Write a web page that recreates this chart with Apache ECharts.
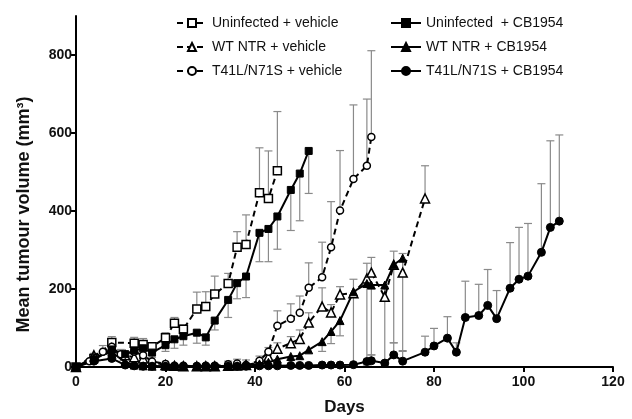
<!DOCTYPE html>
<html>
<head>
<meta charset="utf-8">
<script src="https://cdn.jsdelivr.net/npm/echarts@6/dist/echarts.min.js"></script>
<style>html,body{margin:0;padding:0;background:#fff}#c{width:632px;height:419px}</style>
</head>
<body>
<div id="c"></div>
<script>
// ---- Data ----
const seriesNames = ['Uninfected + vehicle', 'WT NTR + vehicle', 'T41L/N71S + vehicle',
                     'Uninfected  + CB1954', 'WT NTR + CB1954', 'T41L/N71S + CB1954'];
const xTicks = [0, 20, 40, 60, 80, 100, 120];
const yTicks = [0, 200, 400, 600, 800];

// Uninfected + vehicle (error bars upward)
const uvDays = [0, 4, 8, 13, 15, 17, 20, 22, 24, 27, 29, 31, 34, 36, 38, 41, 43, 45];
const uvVals = [0, 22, 63, 61, 58, 52, 75, 112, 97, 149, 155, 187, 214, 307, 314, 447, 432, 503];
const uvErr  = [null, 35, 78, 76, 73, 60, 88, 127, 108, 192, 193, 233, 240, 347, 390, 562, 554, 655];

// Uninfected + CB1954 (error bars downward)
const ucDays = [0, 4, 8, 11, 13, 15, 17, 20, 22, 24, 27, 29, 31, 34, 36, 38, 41, 43, 45, 48, 50, 52];
const ucVals = [0, 18, 45, 33, 42, 48, 37, 56, 71, 79, 88, 76, 119, 172, 215, 232, 344, 354, 386, 454, 496, 554];
const ucErr  = [null, null, 30, null, null, 35, 25, 40, 48, 56, 61, 56, 95, 127, 175, 178, 270, 270, 302, 350, 375, 445];

// WT NTR + vehicle (error bars upward)
const wvDays = [0, 4, 8, 11, 13, 15, 17, 20, 22, 24, 27, 29, 31, 34, 36, 38, 41, 43, 45, 48, 50, 52, 55, 57, 59, 62, 65, 66, 69, 71, 73, 78];
const wvVals = [0, 30, 48, 30, 25, 22, 12, 5, 3, 2, 2, 2, 2, 3, 4, 5, 12, 26, 47, 61, 72, 114, 155, 140, 186, 189, 227, 242, 180, 262, 242, 432];
const wvErr  = [null, null, 60, null, null, null, null, null, null, null, null, null, null, null, null, null, null, 40, 62, 78, 95, 139, 203, 160, 206, 225, 266, 281, 205, 297, 291, 516];

// WT NTR + CB1954 (error bars downward)
const wcDays = [0, 4, 8, 11, 13, 15, 17, 20, 22, 24, 27, 29, 31, 34, 36, 38, 41, 43, 45, 48, 50, 52, 55, 57, 59, 62, 65, 66, 69, 71, 73];
const wcVals = [0, 25, 38, 12, 5, 3, 2, 2, 2, 2, 2, 2, 2, 3, 3, 5, 8, 12, 20, 27, 29, 44, 65, 91, 119, 193, 214, 210, 210, 262, 279];
const wcErr  = [null, null, null, null, null, null, null, null, null, null, null, null, null, null, null, null, null, null, null, null, null, null, 40, 60, 80, 5, 5, 31, 5, 62, 42];

// T41L/N71S + vehicle (error bars upward)
const tvDays = [0, 3, 6, 8, 10, 13, 15, 17, 20, 22, 24, 27, 29, 31, 34, 36, 38, 41, 43, 45, 48, 50, 52, 55, 57, 59, 62, 65, 66];
const tvVals = [0, 15, 39, 52, 33, 39, 30, 14, 8, 3, 3, 2, 3, 3, 7, 9, 5, 16, 39, 106, 124, 139, 203, 230, 307, 401, 482, 516, 590];
const tvErr  = [null, null, 55, 70, 45, 50, null, null, null, null, null, null, null, null, 15, 20, 18, 28, 50, 144, 162, 182, 267, 320, 424, 555, 672, 687, 811];

// T41L/N71S + CB1954 (error bars upward)
const tcDays = [0, 4, 8, 11, 13, 15, 17, 20, 22, 24, 27, 29, 31, 34, 36, 38, 41, 43, 45, 48, 50, 52, 55, 57, 59, 62, 65, 66, 69, 71, 73, 78, 80, 83, 85, 87, 90, 92, 94, 97, 99, 101, 104, 106, 108];
const tcVals = [0, 15, 22, 5, 3, 2, 2, 2, 2, 2, 2, 2, 2, 2, 2, 2, 3, 3, 3, 4, 4, 4, 5, 5, 5, 6, 14, 16, 10, 31, 15, 38, 54, 74, 38, 127, 132, 158, 124, 202, 225, 233, 294, 358, 374];
const tcErr  = [null, null, null, null, null, null, null, null, null, null, null, null, null, null, null, null, null, null, null, null, null, null, null, null, null, null, null, 31, null, 62, 40, 79, 99, 129, 62, 220, 212, 250, 196, 319, 358, 368, 470, 580, 595];

// ---- Build ----
function pts(days, vals) { return days.map((d, i) => [d, vals[i]]); }
function bars(days, vals, ends) {
  const out = [];
  days.forEach((d, i) => { if (ends[i] != null) out.push([d, vals[i], ends[i]]); });
  return out;
}
const FONT = 'Liberation Sans, Arial, Helvetica, sans-serif';

function errSeries(data) {
  return {
    type: 'custom', silent: true, z: 1,
    data: data,
    encode: { x: 0, y: [1, 2] },
    renderItem: function (params, api) {
      const a = api.coord([api.value(0), api.value(1)]);
      const b = api.coord([api.value(0), api.value(2)]);
      const st = { stroke: '#8a8a8a', lineWidth: 1.2 };
      return {
        type: 'group', children: [
          { type: 'line', shape: { x1: a[0], y1: a[1], x2: b[0], y2: b[1] }, style: st },
          { type: 'line', shape: { x1: b[0] - 4, y1: b[1], x2: b[0] + 4, y2: b[1] }, style: st }
        ]
      };
    }
  };
}
function lineSeries(name, data, symbol, size, open, dashed) {
  return {
    name: name, type: 'line', data: data, z: 3,
    symbol: symbol, symbolSize: size, showAllSymbol: true,
    lineStyle: { color: '#000', width: 2, type: dashed ? [6, 4] : 'solid' },
    itemStyle: open ? { color: '#fff', borderColor: '#000', borderWidth: 1.5 }
                    : { color: '#000', borderColor: '#000', borderWidth: 1 },
    emphasis: { disabled: true },
    animation: false
  };
}

const chart = echarts.init(document.getElementById('c'), null, { renderer: 'canvas' });
const legendCommon = {
  orient: 'vertical', top: 11, itemWidth: 30, itemHeight: 10, itemGap: 10,
  textStyle: { fontFamily: FONT, fontSize: 14, color: '#111' }, selectedMode: false
};
chart.setOption({
  animation: false,
  backgroundColor: '#fff',
  grid: { left: 76, right: 19, top: 16, bottom: 52, containLabel: false, outerBoundsMode: 'none' },
  legend: [
    Object.assign({ left: 171, data: seriesNames.slice(0, 3) }, legendCommon),
    Object.assign({ left: 385, data: seriesNames.slice(3, 6) }, legendCommon)
  ],
  xAxis: {
    type: 'value', min: xTicks[0], max: xTicks[xTicks.length - 1], interval: 20,
    name: 'Days', nameLocation: 'middle', nameGap: 32,
    nameTextStyle: { fontFamily: FONT, fontSize: 17, fontWeight: 'bold', color: '#111' },
    axisLine: { show: true, onZero: false, lineStyle: { color: '#000', width: 2 } },
    axisTick: { show: true, length: 5, lineStyle: { color: '#000', width: 2 } },
    axisLabel: { fontFamily: FONT, fontSize: 14, fontWeight: 'bold', color: '#111', margin: 8 },
    splitLine: { show: false }
  },
  yAxis: {
    type: 'value', min: yTicks[0], max: 900, interval: 200,
    name: 'Mean tumour volume (mm³)', nameLocation: 'middle', nameGap: 43,
    nameTextStyle: { fontFamily: FONT, fontSize: 18, fontWeight: 'bold', color: '#111', padding: [0, 46, 0, 0] },
    axisLine: { show: true, lineStyle: { color: '#000', width: 2 } },
    axisTick: { show: true, length: 5, lineStyle: { color: '#000', width: 2 } },
    axisLabel: { fontFamily: FONT, fontSize: 14, fontWeight: 'bold', color: '#111', margin: 4, showMaxLabel: false },
    splitLine: { show: false }
  },
  series: [
    errSeries(bars(uvDays, uvVals, uvErr)),
    errSeries(bars(ucDays, ucVals, ucErr)),
    errSeries(bars(wvDays, wvVals, wvErr)),
    errSeries(bars(wcDays, wcVals, wcErr)),
    errSeries(bars(tvDays, tvVals, tvErr)),
    errSeries(bars(tcDays, tcVals, tcErr)),
    lineSeries(seriesNames[0], pts(uvDays, uvVals), 'rect', 8, true, true),
    lineSeries(seriesNames[1], pts(wvDays, wvVals), 'triangle', 9, true, true),
    lineSeries(seriesNames[2], pts(tvDays, tvVals), 'circle', 7, true, true),
    lineSeries(seriesNames[3], pts(ucDays, ucVals), 'rect', 7, false, false),
    lineSeries(seriesNames[4], pts(wcDays, wcVals), 'triangle', 8, false, false),
    lineSeries(seriesNames[5], pts(tcDays, tcVals), 'circle', 8, false, false)
  ]
});
</script>
</body>
</html>
